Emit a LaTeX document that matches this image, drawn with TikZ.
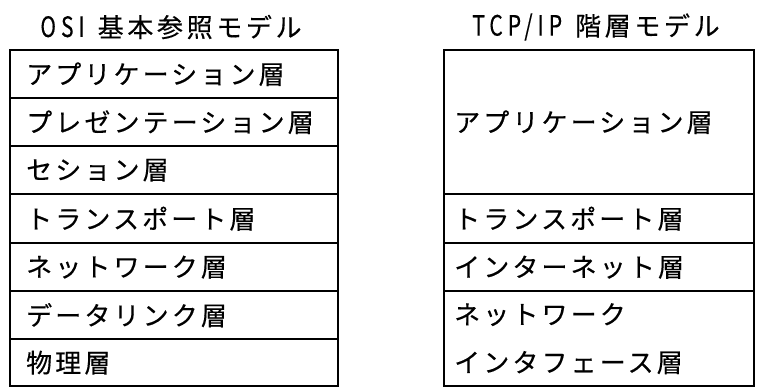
\documentclass[tikz,border=0pt]{standalone}
\usepackage{fontspec}
\newfontfamily\jpbody[LetterSpace=12, FakeBold=0.3]{Noto Sans CJK JP}
\newfontfamily\jptitle[LetterSpace=14, FakeBold=0.3]{Noto Sans CJK JP}
\newfontfamily\jpnarrow[FakeStretch=0.75, LetterSpace=18, FakeBold=0.3]{Noto Sans CJK JP}
\newcommand\latn[1]{{\jpnarrow\fontsize{28}{30}\selectfont #1}\hspace{13pt}}
\begin{document}
\begin{tikzpicture}[x=1pt,y=-1pt,
  lcell/.style={draw, line width=2.4pt, anchor=north west, rectangle,
    minimum width=328pt, inner xsep=16pt, inner ysep=0pt, text width=296pt, align=left,
    font=\jpbody\fontsize{26}{48}\selectfont},
  rcell/.style={draw, line width=2.4pt, anchor=north west, rectangle,
    minimum width=310pt, inner xsep=10pt, inner ysep=0pt, text width=290pt, align=left,
    font=\jpbody\fontsize{26}{48}\selectfont},
  ttl/.style={font=\jptitle\fontsize{26}{30}\selectfont, inner sep=0pt}]
\useasboundingbox (0,0) rectangle (757,390);
\node[ttl] (t1) at (171,27) {\latn{OSI}基本参照モデル};
\node[ttl] (t2) at (596,27) {\latn{TCP/IP}階層モデル};
% left table
\node[lcell, minimum height=48pt] (l1) at (9,49) {アプリケーション層};
\node[lcell, minimum height=48pt] (l2) at (9,97) {プレゼンテーション層};
\node[lcell, minimum height=48pt] (l3) at (9,145) {セション層};
\node[lcell, minimum height=49pt] (l4) at (9,193) {トランスポート層};
\node[lcell, minimum height=48pt] (l5) at (9,242) {ネットワーク層};
\node[lcell, minimum height=48pt] (l6) at (9,290) {データリンク層};
\node[lcell, minimum height=47pt] (l7) at (9,338) {物理層};
% right table
\node[rcell, minimum height=144pt] (r1) at (443,49) {アプリケーション層};
\node[rcell, minimum height=49pt] (r2) at (443,193) {トランスポート層};
\node[rcell, minimum height=48pt] (r3) at (443,242) {インターネット層};
\node[rcell, minimum height=95pt] (r4) at (443,290) {ネットワーク\\インタフェース層};
\end{tikzpicture}
\end{document}
